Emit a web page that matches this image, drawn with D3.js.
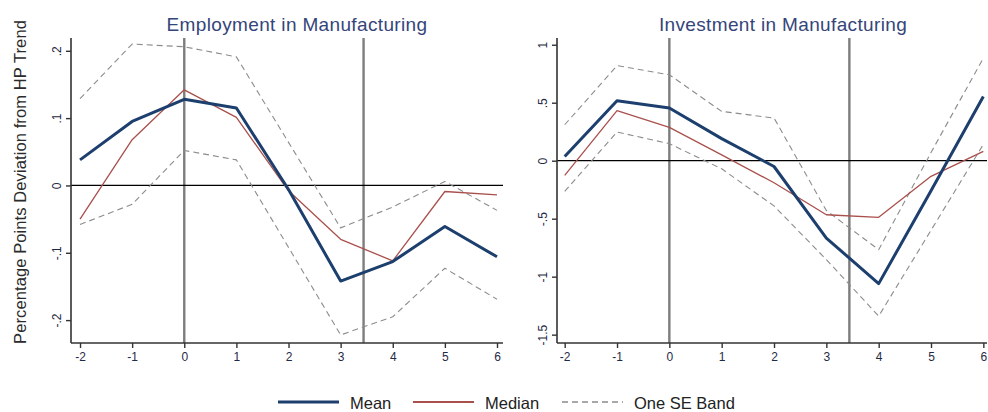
<!DOCTYPE html>
<html>
<head>
<meta charset="utf-8">
<script src="https://cdn.jsdelivr.net/npm/d3@7"></script>
<style>
  html, body { margin: 0; padding: 0; background: #fff; }
  svg { display: block; font-family: "Liberation Sans", Arial, sans-serif; }
</style>
</head>
<body>
<svg id="chart" width="988" height="412"></svg>
<script>
// Event time (years relative to the episode start)
const years = [-2, -1, 0, 1, 2, 3, 4, 5, 6];

// Employment in manufacturing, pp deviation from HP trend
const empMean   = [0.038, 0.095, 0.128, 0.115, -0.006, -0.142, -0.113, -0.061, -0.106];
const empMedian = [-0.050, 0.068, 0.142, 0.101, -0.008, -0.080, -0.112, -0.009, -0.014];
const empUpper  = [0.129, 0.210, 0.206, 0.191, 0.064, -0.063, -0.032, 0.006, -0.037];
const empLower  = [-0.058, -0.028, 0.052, 0.038, -0.092, -0.222, -0.195, -0.123, -0.169];

// Investment in manufacturing, pp deviation from HP trend
const invMean   = [0.037, 0.517, 0.454, 0.19, -0.05, -0.667, -1.06, -0.26, 0.554];
const invMedian = [-0.127, 0.431, 0.287, 0.05, -0.19, -0.466, -0.488, -0.135, 0.08];
const invUpper  = [0.31, 0.82, 0.741, 0.425, 0.368, -0.43, -0.767, 0.07, 0.885];
const invLower  = [-0.265, 0.247, 0.147, -0.07, -0.39, -0.853, -1.34, -0.6, 0.14];

// Tick values and labels
const xTicks = [-2, -1, 0, 1, 2, 3, 4, 5, 6];
const xLabels = ["-2", "-1", "0", "1", "2", "3", "4", "5", "6"];
const empYTicks = [-0.2, -0.1, 0, 0.1, 0.2];
const empYLabels = ["-.2", "-.1", "0", ".1", ".2"];
const invYTicks = [-1.5, -1, -0.5, 0, 0.5, 1];
const invYLabels = ["-1.5", "-1", "-.5", "0", ".5", "1"];

// Reference lines (episode start and end)
const eventLines = [0, 3.44];

const titles = ["Employment in Manufacturing", "Investment in Manufacturing"];
const yTitle = "Percentage Points Deviation from HP Trend";
const legendItems = ["Mean", "Median", "One SE Band"];

const C = {
  mean: "#1c3f6e",
  median: "#a9504c",
  band: "#8c8c8c",
  axis: "#333333",
  event: "#7d7d7d",
  title: "#34457a",
  tick: "#1f2a44"
};

const svg = d3.select("#chart");

function panel(opt) {
  const x = d3.scaleLinear().domain(opt.xDomain).range([opt.left, opt.right]);
  const y = d3.scaleLinear().domain(opt.yDomain).range([opt.bottom, opt.top]);
  const g = svg.append("g");

  // title
  g.append("text")
    .attr("x", opt.titleX).attr("y", 31)
    .attr("text-anchor", "middle")
    .attr("font-size", 19)
    .attr("letter-spacing", 0.35)
    .attr("fill", C.title)
    .text(opt.title);

  // event lines
  g.selectAll("line.event").data(eventLines).join("line")
    .attr("class", "event")
    .attr("x1", d => x(d)).attr("x2", d => x(d))
    .attr("y1", opt.top).attr("y2", opt.bottom)
    .attr("stroke", C.event).attr("stroke-width", 2.4);

  // zero line
  g.append("line")
    .attr("x1", opt.left).attr("x2", opt.right)
    .attr("y1", y(0)).attr("y2", y(0))
    .attr("stroke", "#000").attr("stroke-width", 1.3);

  const line = d3.line().x((d, i) => x(years[i])).y(d => y(d));

  const series = [
    { v: opt.upper, c: C.band, w: 1.1, dash: "6,4" },
    { v: opt.lower, c: C.band, w: 1.1, dash: "6,4" },
    { v: opt.median, c: C.median, w: 1.3, dash: null },
    { v: opt.mean, c: C.mean, w: 3, dash: null }
  ];
  series.forEach(s => {
    g.append("path")
      .attr("d", line(s.v))
      .attr("fill", "none")
      .attr("stroke", s.c)
      .attr("stroke-width", s.w)
      .attr("stroke-linejoin", "round")
      .attr("stroke-dasharray", s.dash);
  });

  // axes
  const xAxis = d3.axisBottom(x).tickValues(xTicks).tickSize(5).tickPadding(4)
    .tickFormat((d, i) => xLabels[i]);
  const gx = g.append("g").attr("transform", `translate(0,${opt.bottom})`).call(xAxis);
  gx.select(".domain").attr("d", `M${opt.left},0H${opt.right}`)
    .attr("stroke", C.axis).attr("stroke-width", 1.6);
  gx.selectAll(".tick line").attr("stroke", C.axis).attr("stroke-width", 1.4);
  gx.selectAll(".tick text").attr("font-size", 12).attr("fill", C.tick)
    .attr("font-family", "Liberation Sans, Arial, sans-serif");

  const yAxis = d3.axisLeft(y).tickValues(opt.yTicks).tickSize(5)
    .tickFormat((d, i) => opt.yLabels[i]);
  const gy = g.append("g").attr("transform", `translate(${opt.left},0)`).call(yAxis);
  gy.select(".domain").attr("d", `M0,${opt.top}V${opt.bottom}`)
    .attr("stroke", C.axis).attr("stroke-width", 1.6);
  gy.selectAll(".tick line").attr("stroke", C.axis).attr("stroke-width", 1.4);
  gy.selectAll(".tick text")
    .attr("font-size", 12).attr("fill", C.tick)
    .attr("font-family", "Liberation Sans, Arial, sans-serif")
    .attr("x", null).attr("dy", null)
    .attr("text-anchor", "middle")
    .attr("transform", "translate(-10,0) rotate(-90)");
}

panel({
  title: titles[0], titleX: 297,
  left: 71, right: 503, top: 38, bottom: 343,
  xDomain: [-2.173, 6.115], yDomain: [-0.234, 0.219],
  yTicks: empYTicks, yLabels: empYLabels,
  mean: empMean, median: empMedian, upper: empUpper, lower: empLower
});

panel({
  title: titles[1], titleX: 783,
  left: 557, right: 987, top: 38, bottom: 343,
  xDomain: [-2.147, 6.07], yDomain: [-1.572, 1.058],
  yTicks: invYTicks, yLabels: invYLabels,
  mean: invMean, median: invMedian, upper: invUpper, lower: invLower
});

// shared y-axis title
svg.append("text")
  .attr("transform", "translate(25.5,182) rotate(-90)")
  .attr("text-anchor", "middle")
  .attr("font-size", 16.5)
  .attr("letter-spacing", 0.1)
  .attr("fill", "#2b2b2b")
  .text(yTitle);

// legend
const legendSpec = [
  { x: 278, c: C.mean, w: 3, dash: null },
  { x: 413, c: C.median, w: 1.8, dash: null },
  { x: 562, c: C.band, w: 1.3, dash: "6,4" }
];
const lg = svg.append("g");
legendSpec.forEach((s, i) => {
  lg.append("line")
    .attr("x1", s.x).attr("x2", s.x + 61)
    .attr("y1", 402).attr("y2", 402)
    .attr("stroke", s.c).attr("stroke-width", s.w)
    .attr("stroke-dasharray", s.dash);
  lg.append("text")
    .attr("x", s.x + 72).attr("y", 409)
    .attr("font-size", 16.5)
    .attr("fill", "#222")
    .text(legendItems[i]);
});
</script>
</body>
</html>
